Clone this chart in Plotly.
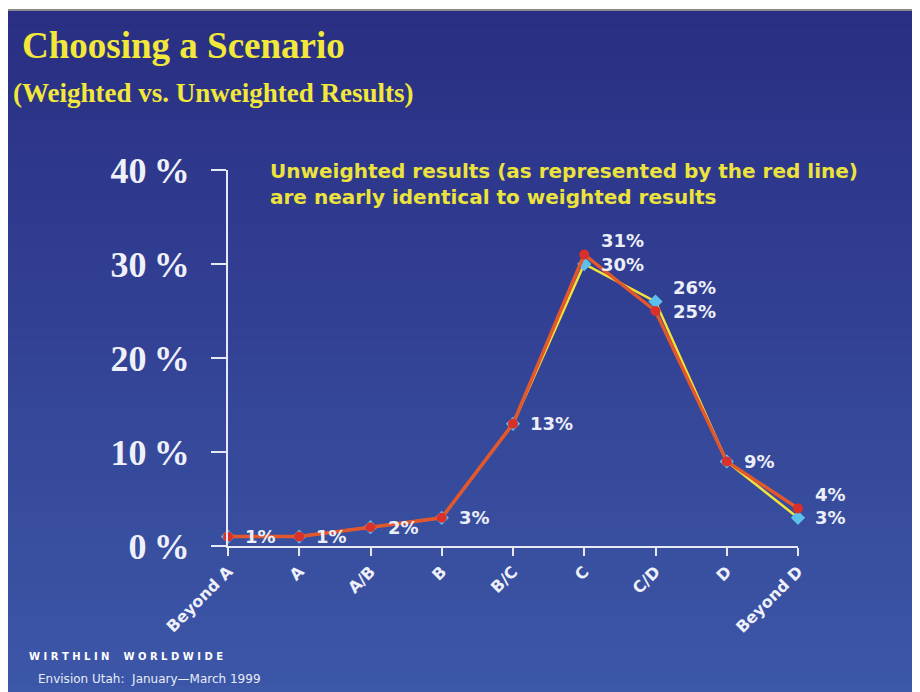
import plotly.graph_objects as go

# data
scenarios = ["Beyond A", "A", "A/B", "B", "B/C", "C", "C/D", "D", "Beyond D"]
weighted = [1, 1, 2, 3, 13, 30, 26, 9, 3]
unweighted = [1, 1, 2, 3, 13, 31, 25, 9, 4]
y_ticks = [0, 10, 20, 30, 40]
y_ticktext = ["0\u2009%", "10\u2009%", "20\u2009%", "30\u2009%", "40\u2009%"]

# value labels: (series, index, raised?)
point_labels = [
    ("u", 0, False), ("u", 1, False), ("u", 2, False), ("u", 3, False),
    ("u", 4, False), ("u", 5, True), ("w", 5, False), ("w", 6, True),
    ("u", 6, False), ("u", 7, False), ("u", 8, True), ("w", 8, False),
]

W, H = 920, 692
OFF = 8  # page body margin
L, R, T, B = 220, 130, 162, 154
pw, ph = W - L - R, H - T - B


def px(x):
    # x in screenshot pixels -> paper fraction
    return (x - OFF - L) / pw


def py(y):
    return (H - B - (y - OFF)) / ph


fig = go.Figure()

fig.add_trace(go.Scatter(
    x=scenarios, y=weighted, mode="lines+markers", name="Weighted",
    line=dict(color="#f2e23a", width=2.5),
    marker=dict(symbol="diamond", size=11, color="#5cc0ec"),
    cliponaxis=False,
))
fig.add_trace(go.Scatter(
    x=scenarios, y=unweighted, mode="lines+markers", name="Unweighted",
    line=dict(color="#e2582c", width=3.5),
    marker=dict(symbol="circle", size=10, color="#d9302c"),
    cliponaxis=False,
))

# gradient background in bands
shapes = []
top_c = (42, 47, 132)
bot_c = (61, 88, 168)
n = 40
y0, y1 = 10, H + 10
for i in range(n):
    f = i / (n - 1)
    c = tuple(int(top_c[k] + (bot_c[k] - top_c[k]) * f) for k in range(3))
    ya = y0 + (y1 - y0) * i / n
    yb = y0 + (y1 - y0) * (i + 1) / n + 1
    shapes.append(dict(type="rect", xref="paper", yref="paper", layer="below",
                       x0=px(8), x1=px(W + 10), y0=py(ya), y1=py(yb),
                       line=dict(width=0), fillcolor="rgb(%d,%d,%d)" % c))
shapes.append(dict(type="line", xref="paper", yref="paper", layer="below",
                   x0=px(8), x1=px(W + 10), y0=py(10), y1=py(10),
                   line=dict(color="#8a8a8a", width=2)))

paper_text = dict(xref="paper", yref="paper", showarrow=False)
annotations = [
    dict(text="Choosing a Scenario", x=px(20), y=py(23), xanchor="left", yanchor="top",
         font=dict(family="Liberation Serif", size=37, color="#f2e83a", weight="bold"), **paper_text),
    dict(text="(Weighted vs. Unweighted Results)", x=px(11), y=py(76), xanchor="left", yanchor="top",
         font=dict(family="Liberation Serif", size=27, color="#f2e83a", weight="bold"), **paper_text),
    dict(text="Unweighted results (as represented by the red line)<br>are nearly identical to weighted results",
         x=px(268), y=py(157), xanchor="left", yanchor="top", align="left",
         font=dict(family="DejaVu Sans", size=20, color="#ece33c", weight="bold"), **paper_text),
    dict(text="W I R T H L I N    W O R L D W I D E", x=px(27), y=py(656), xanchor="left", yanchor="middle",
         font=dict(family="DejaVu Sans", size=10, color="#ffffff", weight="bold"), **paper_text),
    dict(text="Envision Utah:  January\u2014March 1999", x=px(36), y=py(679), xanchor="left", yanchor="middle",
         font=dict(family="DejaVu Sans", size=12, color="#e8ecf8"), **paper_text),
]

for s, i, raised in point_labels:
    vals = unweighted if s == "u" else weighted
    annotations.append(dict(
        x=scenarios[i], y=vals[i], text=f"{vals[i]}%", showarrow=False,
        xanchor="left", yanchor="middle", xshift=15, yshift=14 if raised else 0,
        font=dict(family="DejaVu Sans", size=18, color="#eceef8", weight="bold"),
    ))

fig.update_layout(
    width=W, height=H,
    margin=dict(l=L, r=R, t=T, b=B),
    paper_bgcolor="#ffffff",
    plot_bgcolor="rgba(0,0,0,0)",
    showlegend=False,
    shapes=shapes,
    annotations=annotations,
    xaxis=dict(
        range=[0, 8], showgrid=False, zeroline=False,
        showline=True, linecolor="#e6e9f4", linewidth=2,
        ticks="outside", ticklen=8, tickwidth=2, tickcolor="#e6e9f4",
        tickangle=-45,
        tickfont=dict(family="DejaVu Sans", size=16, color="#eef0fa", weight="bold"),
    ),
    yaxis=dict(
        range=[0, 40], showgrid=False, zeroline=False,
        showline=True, linecolor="#e6e9f4", linewidth=2,
        ticks="outside", ticklen=15, tickwidth=2, tickcolor="#e6e9f4",
        tickvals=y_ticks, ticktext=y_ticktext, ticklabelstandoff=14,
        tickfont=dict(family="Liberation Serif", size=36, color="#eef0fa", weight="bold"),
    ),
)

fig.write_html("out.html")
